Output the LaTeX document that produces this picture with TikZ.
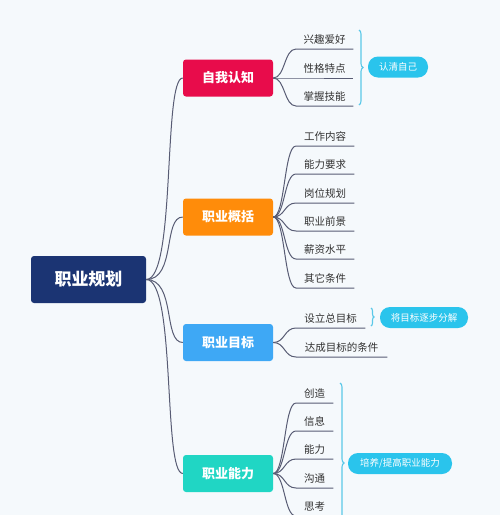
\documentclass[tikz,border=0pt]{standalone}
\usepackage{fontspec}
\setmainfont{Noto Sans CJK SC}
\usepackage{tikz}
\usetikzlibrary{positioning,decorations.pathreplacing}
\definecolor{cBg}{RGB}{245,249,252}
\definecolor{cRoot}{RGB}{27,52,115}
\definecolor{cSelf}{RGB}{232,12,75}
\definecolor{cOver}{RGB}{255,140,10}
\definecolor{cGoal}{RGB}{62,168,245}
\definecolor{cAbil}{RGB}{32,214,196}
\definecolor{cPill}{RGB}{42,196,236}
\definecolor{cBrace}{RGB}{90,200,232}
\definecolor{cLink}{RGB}{88,92,116}
\definecolor{cLeaf}{RGB}{50,50,50}

\begin{document}
\begin{tikzpicture}[x=1pt,y=-1pt,
   rootbox/.style={rounded corners=3pt,fill=cRoot,text=white,font=\fontsize{17}{17}\selectfont\bfseries,minimum width=115pt,minimum height=47pt,inner sep=0pt},
   topicbox/.style={rounded corners=3pt,text=white,font=\fontsize{13}{13}\selectfont\bfseries,minimum width=90pt,minimum height=37pt,inner sep=0pt},
   leaf/.style={anchor=south west,font=\fontsize{10.5}{10.5}\selectfont,text=cLeaf,inner xsep=0pt,inner ysep=4pt,text height=8pt,text depth=1.5pt},
   pill/.style={rounded corners=10pt,fill=cPill,text=white,font=\fontsize{9.5}{9.5}\selectfont,minimum height=21pt,inner sep=0pt},
   link/.style={draw=cLink,line width=1pt},
   cbrace/.style={draw=cBrace,line width=1.1pt,decorate,decoration={brace,amplitude=4pt}}]
 % canvas: pixel grid of the reference, y downwards
 \fill[cBg] (0,0) rectangle (500,515);
 \clip (0,0) rectangle (500,515);
 \node[rootbox] (root) at (88.5,279.5) {职业规划};
 % main topics
 \node[topicbox,fill=cSelf] (self) at (228,78) {自我认知};
 \node[topicbox,fill=cOver] (over) at (228,217) {职业概括};
 \node[topicbox,fill=cGoal] (goal) at (228,342.5) {职业目标};
 \node[topicbox,fill=cAbil] (abil) at (228,473.5) {职业能力};
 \foreach \t in {self,over,goal,abil}
   \draw[link] (root.east) .. controls +(30,0) and +(-20,0) .. (\t.west);
 % leaves: text sits on its underline
 \foreach \k/\ly/\txt in {1/49/兴趣爱好,2/78/性格特点,3/106/掌握技能} {
   \node[leaf,minimum width=57pt] (s\k) at (296,\ly) {\txt};
   \draw[link] (self.east) .. controls +(12,0) and +(-12,0) .. (s\k.south west) -- (s\k.south east);
 }
 \foreach \k/\ly/\txt in {1/146/工作内容,2/174/能力要求,3/203/岗位规划,4/231/职业前景,5/259/薪资水平,6/288/其它条件} {
   \node[leaf,minimum width=58pt] (o\k) at (296,\ly) {\txt};
   \draw[link] (over.east) .. controls +(12,0) and +(-12,0) .. (o\k.south west) -- (o\k.south east);
 }
 \foreach \k/\ly/\w/\txt in {1/328/69/设立总目标,2/357/91/达成目标的条件} {
   \node[leaf,minimum width=\w pt] (g\k) at (296,\ly) {\txt};
   \draw[link] (goal.east) .. controls +(12,0) and +(-12,0) .. (g\k.south west) -- (g\k.south east);
 }
 \foreach \k/\ly/\txt in {1/403/创造,2/431/信息,3/459/能力,4/488/沟通,5/516/思考} {
   \node[leaf,minimum width=37pt] (a\k) at (296,\ly) {\txt};
   \draw[link] (abil.east) .. controls +(12,0) and +(-12,0) .. (a\k.south west) -- (a\k.south east);
 }
 % summaries
 \coordinate (b1t) at (359,30);  \coordinate (b1b) at (359,105);
 \coordinate (b2t) at (371,308); \coordinate (b2b) at (371,326);
 \coordinate (b3t) at (340,383); \coordinate (b3b) at (340,543);
 \draw[cbrace] (b1t) -- (b1b);
 \draw[cbrace,decoration={amplitude=3pt}] (b2t) -- (b2b);
 \draw[cbrace] (b3t) -- (b3b);
 \node[pill,minimum width=60pt] (p1) at (398,67) {认清自己};
 \node[pill,minimum width=88pt] (p2) at (424,317.5) {将目标逐步分解};
 \node[pill,minimum width=104pt] (p3) at (400,463.5) {培养/提高职业能力};
\end{tikzpicture}
\end{document}
